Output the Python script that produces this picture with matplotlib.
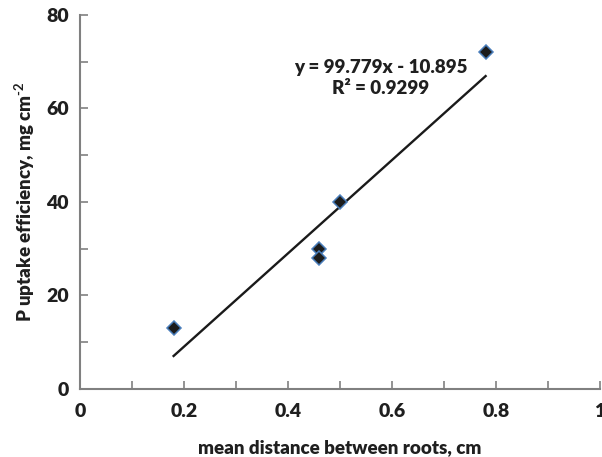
import numpy as np
import matplotlib
matplotlib.use("Agg")
import matplotlib.pyplot as plt
from matplotlib.ticker import MultipleLocator

# data
distance = [0.18, 0.46, 0.46, 0.50, 0.78]
uptake = [13, 30, 28, 40, 72]
# trendline from the label
slope = 99.779
intercept = -10.895
r2 = 0.9299

plt.rcParams['font.family'] = ['Lato', 'DejaVu Sans']
plt.rcParams['font.weight'] = 'bold'
plt.rcParams['mathtext.fontset'] = 'custom'
plt.rcParams['mathtext.rm'] = 'Lato:bold'
plt.rcParams['mathtext.bf'] = 'Lato:bold'
txt = '#1f1f1f'
W = 'heavy'

fig = plt.figure(figsize=(6.02, 4.57), dpi=100)
ax = fig.add_axes([0.1329, 0.1488, 0.8638, 0.8184])

xs = np.array([min(distance), max(distance)])
ax.plot(xs, slope * xs + intercept, color='#1a1a1a', lw=1.7, zorder=2)
ax.plot(distance, uptake, 'D', ms=7, mfc='#1c1c1c', mec='#4a7ebb', mew=1.1, zorder=3)

ax.set_xlim(0, 1)
ax.set_ylim(0, 80)
ax.xaxis.set_minor_locator(MultipleLocator(0.1))
ax.yaxis.set_major_locator(MultipleLocator(20))
ax.yaxis.set_minor_locator(MultipleLocator(10))
ax.set_xticks([0, 0.2, 0.4, 0.6, 0.8, 1])
ax.set_xticklabels(['0', '0.2', '0.4', '0.6', '0.8', '1'])
ax.tick_params(which='both', direction='in', color='#808080', width=1.2, length=6,
               labelsize=14, labelcolor=txt)
ax.tick_params(axis='x', pad=10)
ax.tick_params(axis='y', pad=8)
for s in ['top', 'right']:
    ax.spines[s].set_visible(False)
for s in ['left', 'bottom']:
    ax.spines[s].set_color('#808080')
    ax.spines[s].set_linewidth(1.5)
for lab in ax.get_xticklabels() + ax.get_yticklabels():
    lab.set_fontweight(W)

ax.set_xlabel('mean distance between roots, cm', fontsize=13.5, fontweight=W,
              color=txt, labelpad=14)
ax.set_ylabel('P uptake efficiency, mg cm$^{\\mathrm{\u2010}\\mathrm{2}}$', fontsize=13.5,
              fontweight=W, color=txt, labelpad=7)

ax.text(0.578, 0.832, 'y = 99.779x - 10.895\nR\u00b2 = 0.9299', transform=ax.transAxes,
        ha='center', va='center', fontsize=13.5, fontweight=W, color=txt,
        linespacing=1.33)

fig.savefig('out.png', dpi=100)
